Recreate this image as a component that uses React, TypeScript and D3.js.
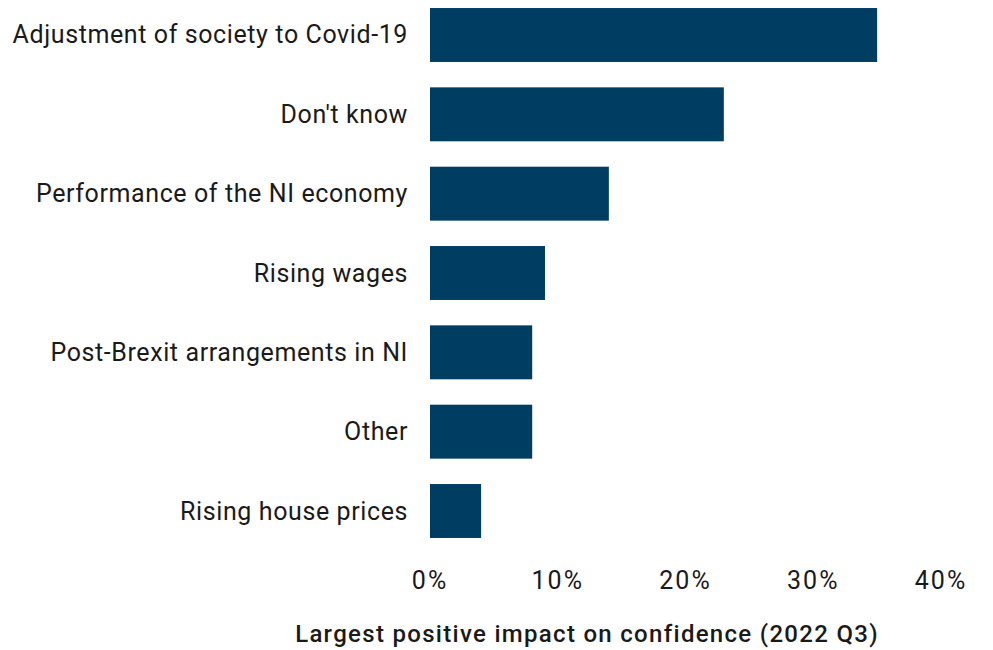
import React from "react";
import * as d3 from "d3";

const categories = [
  "Adjustment of society to Covid-19",
  "Don't know",
  "Performance of the NI economy",
  "Rising wages",
  "Post-Brexit arrangements in NI",
  "Other",
  "Rising house prices",
];
const values = [35, 23, 14, 9, 8, 8, 4];
const ticks = [0, 10, 20, 30, 40];
const axisTitle = "Largest positive impact on confidence (2022 Q3)";

const W = 993;
const H = 650;
const FONT = "Roboto, 'DejaVu Sans', sans-serif";

export default function App() {
  const x = d3.scaleLinear().domain([0, 40]).range([430, 941]);
  const y = d3
    .scaleBand<string>()
    .domain(categories)
    .range([-4.67, 550.67])
    .paddingInner(0.32)
    .paddingOuter(0.16);

  return (
    <svg
      width={W}
      height={H}
      style={{ position: "absolute", left: 0, top: 0, background: "#fff" }}
      fontFamily={FONT}
    >
      {categories.map((c, i) => (
        <g key={c}>
          <rect
            x={x(0)}
            y={y(c)}
            width={x(values[i]) - x(0)}
            height={y.bandwidth()}
            fill="#003d63"
          />
          <text
            x={x(0) - 22}
            y={(y(c) as number) + y.bandwidth() / 2}
            textAnchor="end"
            dominantBaseline="central"
            fontSize={25}
            letterSpacing={0.6}
            fill="#1a1a1a"
          >
            {c}
          </text>
        </g>
      ))}
      {ticks.map((t) => (
        <text
          key={t}
          x={x(t)}
          y={580}
          textAnchor="middle"
          dominantBaseline="central"
          fontSize={25}
          letterSpacing={2}
          fill="#1a1a1a"
        >
          {t}%
        </text>
      ))}
      <text
        x={587}
        y={634}
        textAnchor="middle"
        dominantBaseline="central"
        fontSize={24}
        fontWeight={500}
        letterSpacing={1.3}
        fill="#1a1a1a"
      >
        {axisTitle}
      </text>
    </svg>
  );
}
